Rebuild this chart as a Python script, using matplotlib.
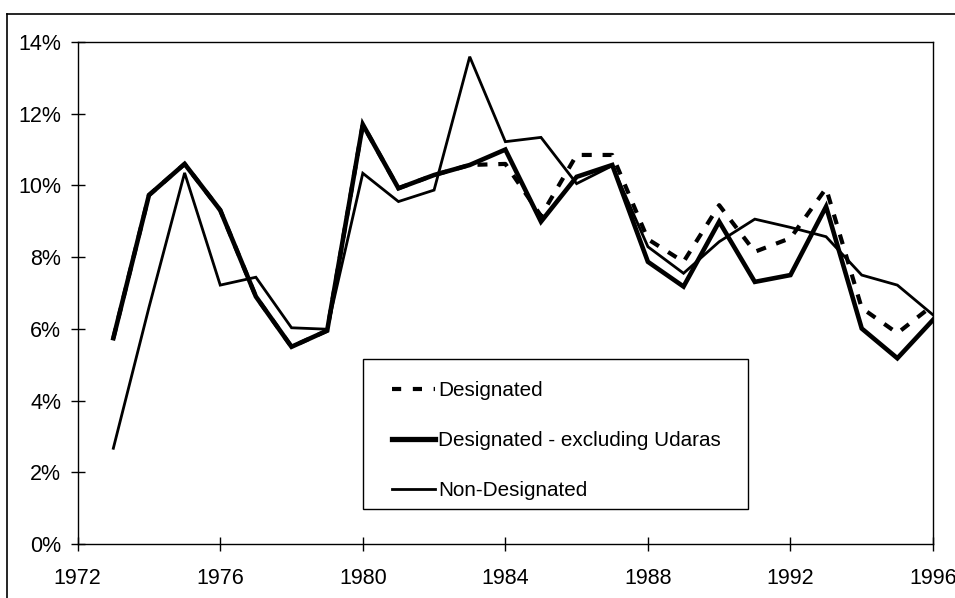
import matplotlib
matplotlib.use("Agg")
import matplotlib.pyplot as plt
from matplotlib.lines import Line2D
from matplotlib.patches import Rectangle

years = list(range(1973, 1997))
designated = [5.74, 9.73, 10.6, 9.31, 6.9, 5.5, 5.95, 11.7, 9.92, 10.29, 10.57, 10.6,
              9.15, 10.85, 10.85, 8.5, 7.87, 9.45, 8.15, 8.53, 9.92, 6.58, 5.88, 6.66]
designated_excl = [5.74, 9.73, 10.6, 9.31, 6.9, 5.5, 5.95, 11.7, 9.92, 10.29, 10.57, 11.0,
                   8.99, 10.24, 10.57, 7.87, 7.18, 8.99, 7.31, 7.5, 9.41, 6.01, 5.18, 6.25]
non_designated = [2.67, 6.6, 10.35, 7.22, 7.44, 6.03, 5.99, 10.34, 9.55, 9.87, 13.59, 11.22,
                  11.34, 10.05, 10.55, 8.29, 7.55, 8.43, 9.06, 8.83, 8.57, 7.5, 7.22, 6.39]
labels = ["Designated", "Designated - excluding Udaras", "Non-Designated"]
xticks = [1972, 1976, 1980, 1984, 1988, 1992, 1996]
yticks = [0, 2, 4, 6, 8, 10, 12, 14]

plt.rcParams['font.family'] = ['Liberation Sans', 'DejaVu Sans']

FS = 15.5
LFS = 14.9

fig = plt.figure(figsize=(9.55, 5.98), dpi=100)
AX_L, AX_R, AX_T, AX_B = 77.7, 933.0, 42.0, 544.0
ax = fig.add_axes([AX_L/955, 1-AX_B/598, (AX_R-AX_L)/955, (AX_B-AX_T)/598])

ax.plot(years, non_designated, color='black', lw=2.0, solid_joinstyle='miter', zorder=3)
ax.plot(years, designated_excl, color='black', lw=3.3, solid_joinstyle='miter', zorder=4)
ax.plot(years, designated, color='black', lw=3.0, dashes=(2.4, 2.6), zorder=5)

ax.set_xlim(1972, 1996)
ax.set_ylim(0, 14)
ax.set_xticks(xticks)
ax.set_xticklabels([str(t) for t in xticks])
ax.set_yticks(yticks)
ax.set_yticklabels([f"{t}%" for t in yticks])
ax.tick_params(direction='inout', length=10, width=1, labelsize=FS, color='black')
ax.tick_params(axis='x', pad=12)
ax.tick_params(axis='y', pad=7)
for s in ax.spines.values():
    s.set_linewidth(1.0)
    s.set_color('black')


def ax_x(px):
    return (px - AX_L) / (AX_R - AX_L)


def ax_y(py):
    return (AX_B - py) / (AX_B - AX_T)


# legend frame
ax.add_patch(Rectangle((ax_x(363), ax_y(509)), ax_x(748) - ax_x(363), ax_y(359) - ax_y(509),
                       transform=ax.transAxes, facecolor='white', edgecolor='black',
                       lw=1.0, zorder=6))

h1 = Line2D([], [], color='black', lw=3.0, dashes=(2.2, 2.8))
h2 = Line2D([], [], color='black', lw=3.8)
h3 = Line2D([], [], color='black', lw=2.0)
leg = ax.legend([h1, h2, h3], labels, loc='upper left',
                bbox_to_anchor=(ax_x(392), ax_y(381)),
                fontsize=LFS, frameon=False,
                borderpad=0, labelspacing=1.5, handlelength=2.08,
                handletextpad=0.15, borderaxespad=0)
leg.set_zorder(7)

# outer figure frame (top and left visible)
fig.add_artist(Line2D([7/955, 1.0], [1-14/598, 1-14/598], color='black', lw=1.2,
                      transform=fig.transFigure))
fig.add_artist(Line2D([7/955, 7/955], [0.0, 1-14/598], color='black', lw=1.2,
                      transform=fig.transFigure))

fig.savefig("out.png", dpi=100)
